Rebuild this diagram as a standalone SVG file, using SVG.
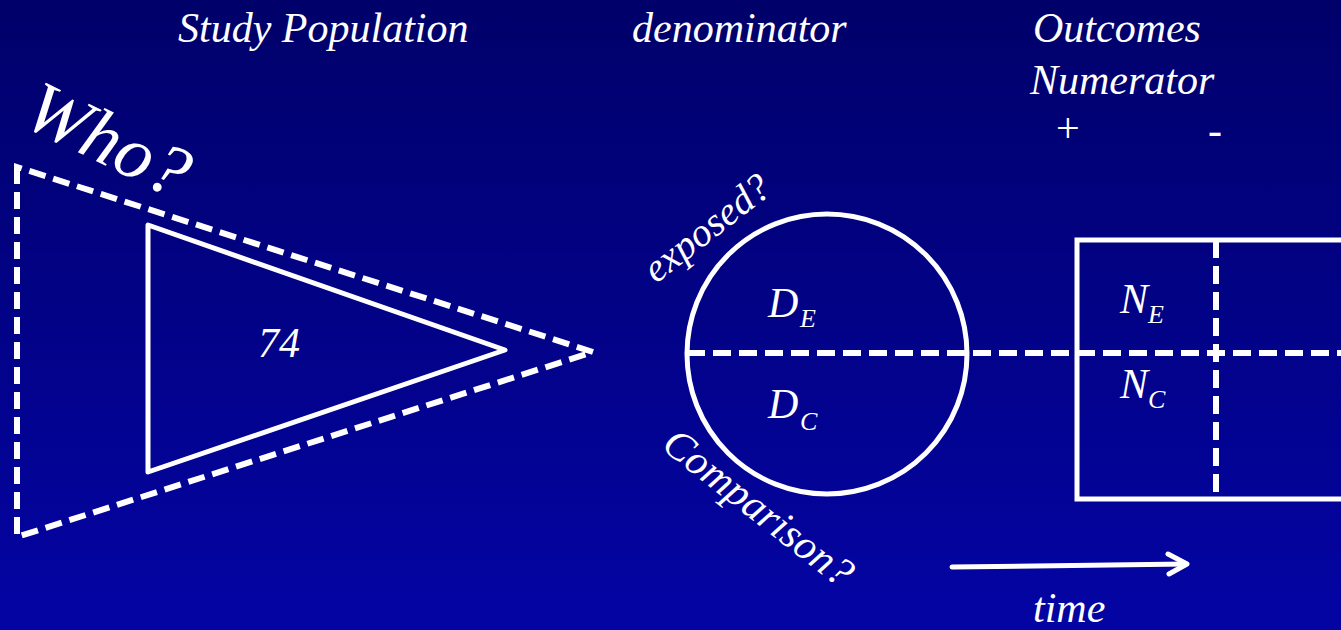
<svg xmlns="http://www.w3.org/2000/svg" width="1341" height="630" viewBox="0 0 1341 630">
<defs>
<linearGradient id="bg" x1="0" y1="0" x2="0" y2="1">
<stop offset="0" stop-color="#00006A"/>
<stop offset="1" stop-color="#0404A4"/>
</linearGradient>
<style>
text{font-family:"Liberation Serif","Times New Roman",serif;font-style:italic;fill:#fff;font-size:42px}
.up{font-style:normal}
.sub{font-size:26px}
.big{font-size:74px}
.mid{font-size:40px}
.solid{fill:none;stroke:#fff;stroke-width:5}
.dash{fill:none;stroke:#fff;stroke-width:6;stroke-dasharray:18 8}
.dashT{fill:none;stroke:#fff;stroke-width:6;stroke-dasharray:17 8}
</style>
</defs>
<rect width="1341" height="630" fill="url(#bg)"/>
<g id="titles">
<text x="178" y="42">Study Population</text>
<text x="632" y="42">denominator</text>
<text x="1033" y="42">Outcomes</text>
<text x="1030" y="94">Numerator</text>
<text class="up" x="1056" y="142">+</text>
<text class="up" x="1208" y="144">-</text>
</g>
<g id="who">
<text class="big" x="20" y="124" transform="rotate(26 20 124)">Who?</text>
</g>
<g id="population">
<polygon class="dashT" points="17,167 17,537 593,352"/>
</g>
<g id="sample">
<polygon class="solid" points="148,225 148,472 505,350" stroke-linejoin="round"/>
<text x="258" y="357">74</text>
</g>
<g id="denominator">
<circle class="solid" cx="827" cy="354" r="140"/>
<text x="768" y="317">D<tspan class="sub" x="800" y="327">E</tspan></text>
<text x="768" y="418">D<tspan class="sub" x="800" y="430">C</tspan></text>
<text class="mid" x="656" y="284" transform="rotate(-38 656 284)">exposed?</text>
<text x="660" y="448" transform="rotate(38 660 448)">Comparison?</text>
</g>
<g id="outcomes">
<path class="solid" d="M1350,240 H1077 V499 H1350"/>
<line class="dash" x1="1216" y1="240" x2="1216" y2="499" stroke-dasharray="16 8"/>
<text x="1120" y="313">N<tspan class="sub" x="1148" y="323">E</tspan></text>
<text x="1120" y="398">N<tspan class="sub" x="1148" y="408">C</tspan></text>
</g>
<g id="connectors">
<line class="dash" x1="687" y1="353" x2="1341" y2="353"/>
<line class="solid" x1="952" y1="567" x2="1186" y2="564" stroke-linecap="round"/>
<polyline class="solid" points="1168,554 1187,564 1169,574" stroke-linecap="round" stroke-linejoin="round"/>
</g>
<g id="time">
<text x="1033" y="622">time</text>
</g>
</svg>
